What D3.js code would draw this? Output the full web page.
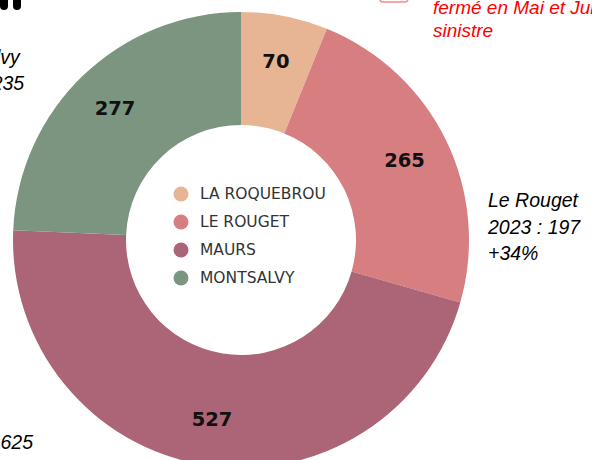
<!DOCTYPE html>
<html>
<head>
<meta charset="utf-8">
<script src="https://cdn.jsdelivr.net/npm/d3@7"></script>
<style>
  html, body { margin: 0; padding: 0; background: #fff; overflow: hidden; }
  svg { display: block; }
</style>
</head>
<body>
<svg id="chart" width="592" height="460"></svg>
<script>
// data
const sites = ["LA ROQUEBROU", "LE ROUGET", "MAURS", "MONTSALVY"];
const counts = [70, 265, 527, 277];
const colors = ["#e8b594", "#d67e80", "#ac6477", "#7b9580"];

// side notes (partly cut off by the frame)
const noteRouget = ["Le Rouget", "2023 : 197", "+34%"];
const noteMontsalvy = ["Montsalvy", "2023 : 235"];
const noteMaurs = ["2023 : 625"];
const noteClosed = ["fermé en Mai et Juin", "sinistre"];

const svg = d3.select("#chart");
const cx = 241, cy = 240;
const outerR = 228, innerR = 115;

const rows = sites.map((name, i) => ({ name, value: counts[i], color: colors[i] }));

const pie = d3.pie().sort(null).value(d => d.value).startAngle(0).endAngle(2 * Math.PI);
const arc = d3.arc().innerRadius(innerR).outerRadius(outerR);
const labelArc = d3.arc().innerRadius(182).outerRadius(182);

const donut = svg.append("g").attr("transform", `translate(${cx},${cy})`);

donut.selectAll("path")
    .data(pie(rows))
    .join("path")
    .attr("d", arc)
    .attr("fill", d => d.data.color);

donut.selectAll("text.value")
    .data(pie(rows))
    .join("text")
    .attr("class", "value")
    .attr("transform", d => `translate(${labelArc.centroid(d)})`)
    .attr("text-anchor", "middle")
    .attr("dominant-baseline", "central")
    .attr("font-family", "DejaVu Sans, Verdana, sans-serif")
    .attr("font-weight", "bold")
    .attr("font-size", 19.5)
    .attr("fill", "#111")
    .text(d => d.data.value);

// legend in the hole
const legend = svg.append("g").attr("transform", "translate(181,194)");
const item = legend.selectAll("g")
    .data(rows)
    .join("g")
    .attr("transform", (d, i) => `translate(0,${i * 28})`);
item.append("circle").attr("r", 7.5).attr("fill", d => d.color);
item.append("text")
    .attr("x", 19)
    .attr("dominant-baseline", "central")
    .attr("font-family", "DejaVu Sans, Verdana, sans-serif")
    .attr("font-size", 15.5)
    .attr("fill", "#333")
    .text(d => d.name);

// annotations
function note(lines, x, y, anchor, color, size, step) {
    svg.append("g").selectAll("text")
        .data(lines)
        .join("text")
        .attr("x", x)
        .attr("y", (d, i) => y + i * step)
        .attr("text-anchor", anchor)
        .attr("font-family", "Liberation Sans, Arial, sans-serif")
        .attr("font-style", "italic")
        .attr("font-size", size)
        .attr("fill", color)
        .text(d => d);
}

note(noteRouget, 488, 207, "start", "#000", 19.5, 26.5);
note(noteMontsalvy, -68, 64, "start", "#000", 19.5, 26);
note(noteMaurs, 33, 449, "end", "#000", 19.5, 26);
note(noteClosed, 433, 14, "start", "#ff0000", 19, 22.5);

// bits of shapes peeking in at the top edge
svg.append("rect")
    .attr("x", 380).attr("y", -12).attr("width", 28).attr("height", 14)
    .attr("rx", 3)
    .attr("fill", "#ffffff").attr("stroke", "#f28b8b").attr("stroke-width", 1.5);
svg.append("g").selectAll("rect")
    .data([0, 13])
    .join("rect")
    .attr("x", d => d).attr("y", -10).attr("width", 8).attr("height", 20)
    .attr("rx", 4)
    .attr("fill", "#000");
</script>
</body>
</html>
